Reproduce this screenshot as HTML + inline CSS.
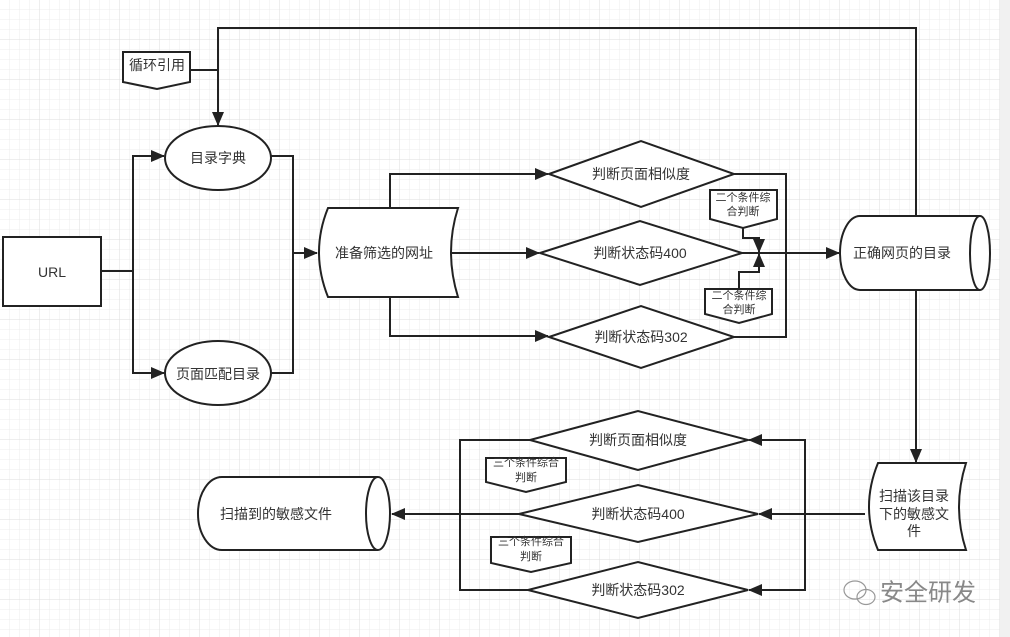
<!DOCTYPE html>
<html><head><meta charset="utf-8"><style>
html,body{margin:0;padding:0;background:#fff}
svg{display:block}
text{font-family:"Liberation Sans","Noto Sans CJK SC",sans-serif;font-size:14px;fill:#333;text-anchor:middle;dominant-baseline:central}
</style></head><body>
<svg width="1010" height="637" viewBox="0 0 1010 637" xmlns="http://www.w3.org/2000/svg">
<defs>
<pattern id="g" width="10" height="10" patternUnits="userSpaceOnUse"><path d="M10 0V10H0" fill="none" stroke="#ececec" stroke-width="1"/></pattern>
<pattern id="G" width="40" height="40" patternUnits="userSpaceOnUse"><rect width="40" height="40" fill="url(#g)"/><path d="M40 0V40H0" fill="none" stroke="#dedede" stroke-width="1"/></pattern>
<marker id="a" markerWidth="14" markerHeight="12" refX="13" refY="6" orient="auto" markerUnits="userSpaceOnUse"><path d="M0,0 L14,6 L0,12 Z" fill="#222"/></marker>
</defs>
<rect width="1010" height="637" fill="url(#G)"/>
<rect x="1000" y="0" width="10" height="637" fill="#f1f1f1"/>
<g fill="none" stroke="#222" stroke-width="2">
<path d="M101,271 H133 V156 H164" marker-end="url(#a)"/>
<path d="M133,271 V373 H164" marker-end="url(#a)"/>
<path d="M271,156 H293 V373 H271"/>
<path d="M293,253 H317" marker-end="url(#a)"/>
<path d="M190,70 H218"/>
<path d="M916,216 V28 H218 V125" marker-end="url(#a)"/>
<path d="M450,253 H539" marker-end="url(#a)"/>
<path d="M390,208 V174 H548" marker-end="url(#a)"/>
<path d="M390,297 V336 H548" marker-end="url(#a)"/>
<path d="M734,174 H786 V337 H734"/>
<path d="M742,253 H839" marker-end="url(#a)"/>
<path d="M743,228 V238 H759 V252" marker-end="url(#a)"/>
<path d="M739,289 V272 H759 V254" marker-end="url(#a)"/>
<path d="M916,290 V462" marker-end="url(#a)"/>
<path d="M865,514 H759" marker-end="url(#a)"/>
<path d="M805,514 V440 H749" marker-end="url(#a)"/>
<path d="M805,514 V590 H749" marker-end="url(#a)"/>
<path d="M530,440 H460 V590 H528"/>
<path d="M519,514 H392" marker-end="url(#a)"/>
</g>
<g fill="#fff" stroke="#222" stroke-width="2">
<rect x="3" y="237" width="98" height="69"/>
<ellipse cx="218" cy="158" rx="53" ry="32"/>
<ellipse cx="218" cy="373" rx="53" ry="32"/>
<path d="M123,52 H190 V82 L157,89 L123,82 Z"/>
<path d="M328,208 H458 Q444,252 458,297 H328 Q310,252 328,208 Z"/>
<path d="M549,174 L641,141 L734,174 L641,207 Z"/>
<path d="M540,253 L640,221 L742,253 L640,285 Z"/>
<path d="M549,337 L641,306 L734,337 L641,368 Z"/>
<path d="M710,190 H777 V219 L743,228 L710,219 Z"/>
<path d="M705,289 H772 V314 L739,323 L705,314 Z"/>
<path d="M860,216 H980 A10,37 0 0 1 980,290 H860 A20,37 0 0 1 860,216 Z"/>
<path d="M980,216 A10,37 0 0 0 980,290"/>
<path d="M878,463 H966 Q952,507 966,550 H878 Q860,507 878,463 Z"/>
<path d="M530,440 L638,411 L748,440 L638,470 Z"/>
<path d="M519,514 L638,485 L758,514 L638,542 Z"/>
<path d="M528,590 L638,562 L748,590 L638,618 Z"/>
<path d="M486,458 H566 V482 L526,492 L486,482 Z"/>
<path d="M491,537 H571 V563 L531,572 L491,563 Z"/>
<path d="M222,477 H378 A12,36.5 0 0 1 378,550 H222 A24,36.5 0 0 1 222,477 Z"/>
<path d="M378,477 A12,36.5 0 0 0 378,550"/>
</g>
<text x="52" y="272">URL</text>
<text x="218" y="158">目录字典</text>
<text x="218" y="374">页面匹配目录</text>
<text x="157" y="65">循环引用</text>
<text x="384" y="253">准备筛选的网址</text>
<text x="641" y="174">判断页面相似度</text>
<text x="640" y="253">判断状态码400</text>
<text x="641" y="337">判断状态码302</text>
<text x="743" y="198" style="font-size:11px">二个条件综</text>
<text x="743" y="212" style="font-size:11px">合判断</text>
<text x="739" y="296" style="font-size:11px">二个条件综</text>
<text x="739" y="310" style="font-size:11px">合判断</text>
<text x="902" y="253">正确网页的目录</text>
<text x="914" y="496">扫描该目录</text>
<text x="914" y="514">下的敏感文</text>
<text x="914" y="531">件</text>
<text x="638" y="440">判断页面相似度</text>
<text x="638" y="514">判断状态码400</text>
<text x="638" y="590">判断状态码302</text>
<text x="526" y="463" style="font-size:11px">三个条件综合</text>
<text x="526" y="478" style="font-size:11px">判断</text>
<text x="531" y="542" style="font-size:11px">三个条件综合</text>
<text x="531" y="557" style="font-size:11px">判断</text>
<text x="276" y="514">扫描到的敏感文件</text>
<g fill="none" stroke="#999" stroke-width="1.2">
<ellipse cx="855" cy="590" rx="11" ry="9"/>
<ellipse cx="866" cy="597" rx="9" ry="7.5"/>
</g>
<text x="928" y="593" style="font-size:24px;fill:#888">安全研发</text>
</svg>
</body></html>
